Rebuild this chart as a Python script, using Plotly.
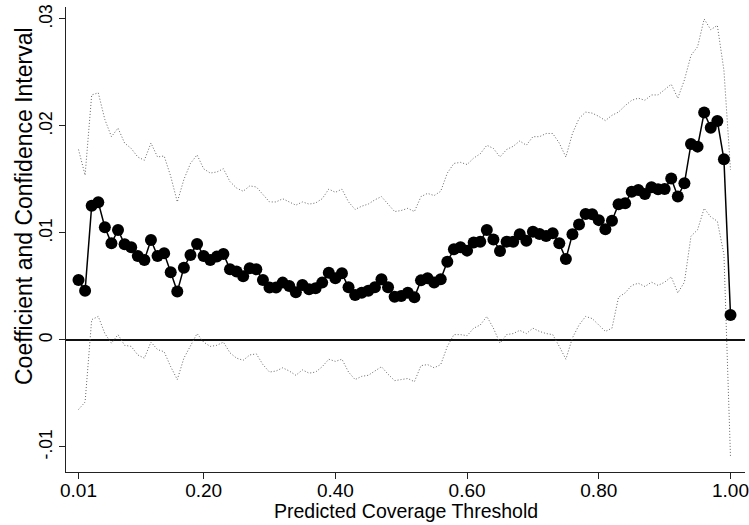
import plotly.graph_objects as go

thresholds = [round(0.01 * (i + 1), 2) for i in range(100)]

coef = [
    0.0056, 0.0046, 0.01255, 0.01287, 0.01053, 0.00903, 0.01028, 0.00894, 0.00866, 0.00785,
    0.00748, 0.00935, 0.00785, 0.0081, 0.00633, 0.00452, 0.00676, 0.00794, 0.00897, 0.00785,
    0.00748, 0.00779, 0.00804, 0.0066, 0.00639, 0.00596, 0.0067, 0.0066, 0.0056, 0.0049,
    0.0049, 0.00536, 0.00505, 0.00445, 0.00514, 0.00474, 0.00483, 0.00536, 0.00629, 0.00576,
    0.00623, 0.00492, 0.0042, 0.00442, 0.0046, 0.00492, 0.00567, 0.00492, 0.00405, 0.00411,
    0.00442, 0.00399, 0.00557, 0.00576, 0.00536, 0.00567, 0.00732, 0.00847, 0.00866, 0.00835,
    0.0091, 0.00919, 0.01028, 0.0094, 0.00832, 0.00919, 0.00919, 0.00988, 0.00928, 0.01012,
    0.0099, 0.00972, 0.00997, 0.00903, 0.00757, 0.00988, 0.0108, 0.01178, 0.01175, 0.0112,
    0.01034, 0.01115, 0.01268, 0.01277, 0.01386, 0.01402, 0.01364, 0.01427, 0.01408, 0.01411,
    0.0151, 0.0134, 0.01464, 0.01832, 0.01807, 0.02125, 0.01984, 0.02047, 0.01688, 0.00234,
]

ci_upper = [
    0.0178, 0.0154, 0.0229, 0.0231, 0.0206, 0.0190, 0.0198, 0.0184, 0.0179, 0.0171,
    0.0168, 0.0184, 0.0171, 0.0172, 0.0153, 0.0129, 0.0150, 0.0165, 0.0173, 0.0160,
    0.0156, 0.0157, 0.0160, 0.0148, 0.0142, 0.0139, 0.0144, 0.0143, 0.0136, 0.0129,
    0.0129, 0.0132, 0.0129, 0.0126, 0.0129, 0.0127, 0.0128, 0.0132, 0.0141, 0.0138,
    0.0141, 0.0129, 0.0122, 0.0125, 0.0127, 0.0131, 0.0134, 0.0127, 0.0120, 0.0121,
    0.0123, 0.0120, 0.0134, 0.0137, 0.0135, 0.0139, 0.0156, 0.0165, 0.0166, 0.0164,
    0.0170, 0.0174, 0.0182, 0.0179, 0.0171, 0.0178, 0.0181, 0.0186, 0.0182, 0.0190,
    0.0190, 0.0193, 0.0193, 0.0184, 0.0171, 0.0193, 0.0207, 0.0213, 0.0212, 0.0209,
    0.0205, 0.0210, 0.0213, 0.0219, 0.0224, 0.0226, 0.0224, 0.0229, 0.0229, 0.0234,
    0.0239, 0.0226, 0.0243, 0.0266, 0.0274, 0.0300, 0.0290, 0.0294, 0.0252, 0.0159,
]

ci_lower = [
    -0.0065, -0.0058, 0.0019, 0.0022, 0.0006, -0.0003, 0.0005, -0.0005, -0.0006, -0.0014,
    -0.0017, -0.0002, -0.0009, -0.0011, -0.0025, -0.0037, -0.0017, -0.0005, 0.0006, -0.0002,
    -0.0006, -0.0005, -0.0002, -0.0012, -0.0017, -0.0019, -0.0014, -0.0013, -0.0023, -0.0030,
    -0.0029, -0.0026, -0.0029, -0.0033, -0.0028, -0.0031, -0.0030, -0.0025, -0.0018, -0.0020,
    -0.0018, -0.0030, -0.0037, -0.0034, -0.0033, -0.0029, -0.0025, -0.0032, -0.0038, -0.0037,
    -0.0036, -0.0039, -0.0024, -0.0023, -0.0026, -0.0023, -0.0006, 0.0005, 0.0005, 0.0004,
    0.0011, 0.0014, 0.0022, 0.0011, -0.0003, 0.0005, 0.0006, 0.0009, 0.0006, 0.0011,
    0.0008, 0.0006, 0.0005, -0.0006, -0.0018, 0.0002, 0.0014, 0.0022, 0.0020, 0.0014,
    0.0008, 0.0011, 0.0040, 0.0044, 0.0051, 0.0053, 0.0050, 0.0054, 0.0051, 0.0054,
    0.0059, 0.0044, 0.0054, 0.0097, 0.0103, 0.0123, 0.0115, 0.0111, 0.0080, -0.0110,
]

x_tick_vals = [0.01, 0.20, 0.40, 0.60, 0.80, 1.00]
x_tick_text = ["0.01", "0.20", "0.40", "0.60", "0.80", "1.00"]
y_tick_vals = [-0.01, 0.0, 0.01, 0.02, 0.03]
y_tick_text = ["-.01", "0", ".01", ".02", ".03"]

x_title = "Predicted Coverage Threshold"
y_title = "Coefficient and Confidence Interval"

FONT = "Liberation Sans, Arial, sans-serif"
CI_COLOR = "#666666"

W, H = 749, 525
L, R, T, B = 66, 4, 7, 53
PW, PH = W - L - R, H - T - B

fig = go.Figure()
for ci in (ci_upper, ci_lower):
    fig.add_trace(go.Scatter(
        x=thresholds, y=ci, mode="lines",
        line=dict(color=CI_COLOR, width=1, dash="1px,2px"),
        showlegend=False, hoverinfo="skip",
    ))
fig.add_trace(go.Scatter(
    x=thresholds, y=coef, mode="lines+markers",
    line=dict(color="black", width=1.5),
    marker=dict(color="black", size=12, line=dict(width=0)),
    showlegend=False,
))

fig.update_layout(
    width=W, height=H,
    margin=dict(l=L, r=R, t=T, b=B, autoexpand=False),
    paper_bgcolor="white", plot_bgcolor="white",
    font=dict(family=FONT, color="black"),
    xaxis=dict(
        range=[-0.009, 1.022], showgrid=False, zeroline=False,
        showline=True, linecolor="#222", linewidth=1,
        ticks="outside", ticklen=6, tickcolor="#222", tickwidth=1,
        tickvals=x_tick_vals, ticktext=x_tick_text,
        tickfont=dict(size=19, family=FONT, color="black"),
        ticklabeloverflow="allow", ticklabelstandoff=-5,
    ),
    yaxis=dict(
        range=[-0.01234, 0.03112], showgrid=False,
        zeroline=True, zerolinecolor="#111", zerolinewidth=1.5,
        showline=True, linecolor="#222", linewidth=1,
        ticks="outside", ticklen=6, tickcolor="#222", tickwidth=1,
        tickvals=y_tick_vals, ticktext=y_tick_text, tickangle=-90,
        tickfont=dict(size=17.5, family=FONT, color="black"),
        ticklabeloverflow="allow",
    ),
    annotations=[
        dict(text=x_title, xref="paper", yref="paper", x=0.5, y=-(519 - 472) / PH,
             xanchor="center", yanchor="bottom", showarrow=False,
             font=dict(size=19.5, family=FONT, color="black"), yshift=-5),
        dict(text=y_title, xref="paper", yref="paper", x=-(L - 24) / PW, y=(472 - 206) / PH,
             xanchor="center", yanchor="middle", showarrow=False, textangle=-90,
             font=dict(size=23, family=FONT, color="black")),
    ],
)

fig.write_html("out.html", config={"displayModeBar": False},
               post_script="document.body.style.margin='0';")
